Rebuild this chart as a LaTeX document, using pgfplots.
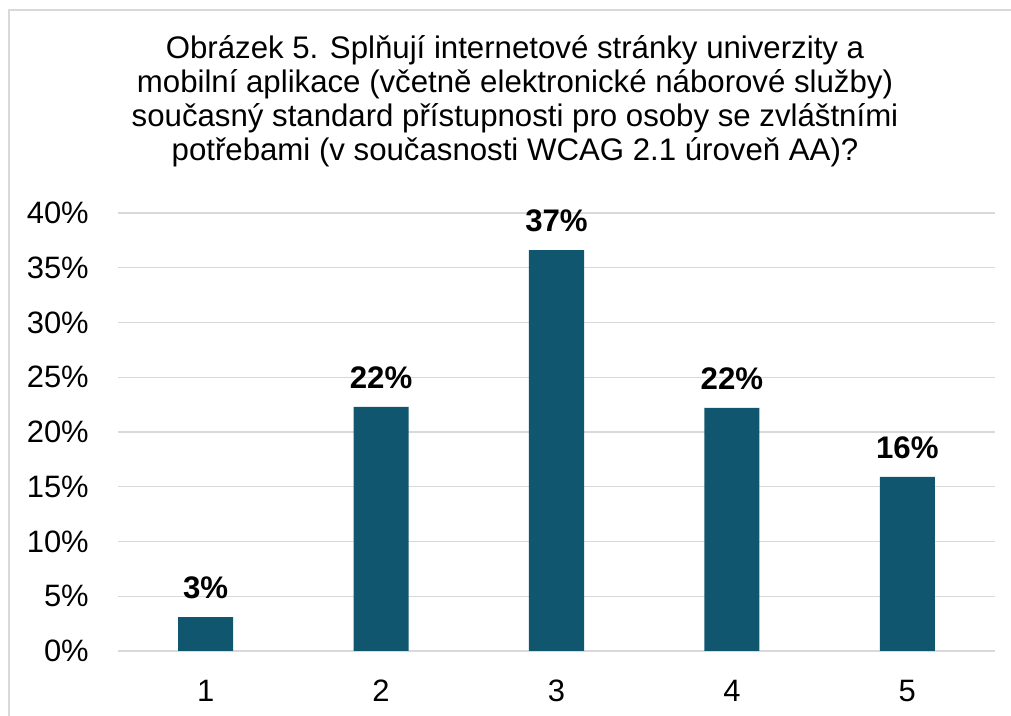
\documentclass[border=0pt]{standalone}
\usepackage{pgfplots}
\pgfplotsset{compat=1.18}
\usepackage{fontspec}
\setmainfont{Liberation Sans}
\definecolor{barc}{HTML}{10566F}
\definecolor{gridc}{HTML}{D9D9D9}
\begin{document}
\begin{tikzpicture}
\path[use as bounding box] (0,0) rectangle (758.25pt,537pt);
\draw[gridc, line width=1.1pt] (6.75pt,0) -- (6.75pt,529.5pt) -- (758.25pt,529.5pt);
\begin{axis}[
  at={(88.5pt,48.75pt)}, anchor=south west,
  width=657.75pt, height=328.5pt, scale only axis,
  xmin=0.5, xmax=5.5, ymin=0, ymax=40,
  xtick={1,2,3,4,5}, ytick={0,5,...,40},
  ymajorgrids, grid style={gridc, line width=1pt},
  axis line style={draw=none},
  major tick length=0,
  /pgf/number format/assume math mode=true,
  tick label style={font=\fontsize{23.2}{27}\selectfont, inner sep=0pt},
  yticklabel={\pgfmathprintnumber{\tick}\%},
  yticklabel style={anchor=east, xshift=-21.75pt},
  xticklabel style={anchor=north, yshift=-21.75pt},
  ybar, bar width=41.25pt,
  nodes near coords={\pgfmathprintnumber[fixed,precision=0]{\pgfplotspointmeta}\%},
  every node near coord/.append style={font=\fontsize{23.4}{27}\selectfont\bfseries, inner sep=0pt, anchor=south, yshift=13.5pt},
]
\addplot[fill=barc, draw=none] coordinates {(1,3.1) (2,22.3) (3,36.6) (4,22.2) (5,15.9)};
\end{axis}
\begin{scope}[every node/.style={font=\fontsize{23.4}{27}\selectfont, anchor=base, inner sep=0pt}]
\node at (386.25pt,492.75pt) {Obrázek 5. Splňují internetové stránky univerzity a};
\node at (386.25pt,467.25pt) {mobilní aplikace (včetně elektronické náborové služby)};
\node at (386.25pt,441.75pt) {současný standard přístupnosti pro osoby se zvláštními};
\node at (386.25pt,416.25pt) {potřebami (v současnosti WCAG 2.1 úroveň AA)?};
\end{scope}
\end{tikzpicture}
\end{document}
